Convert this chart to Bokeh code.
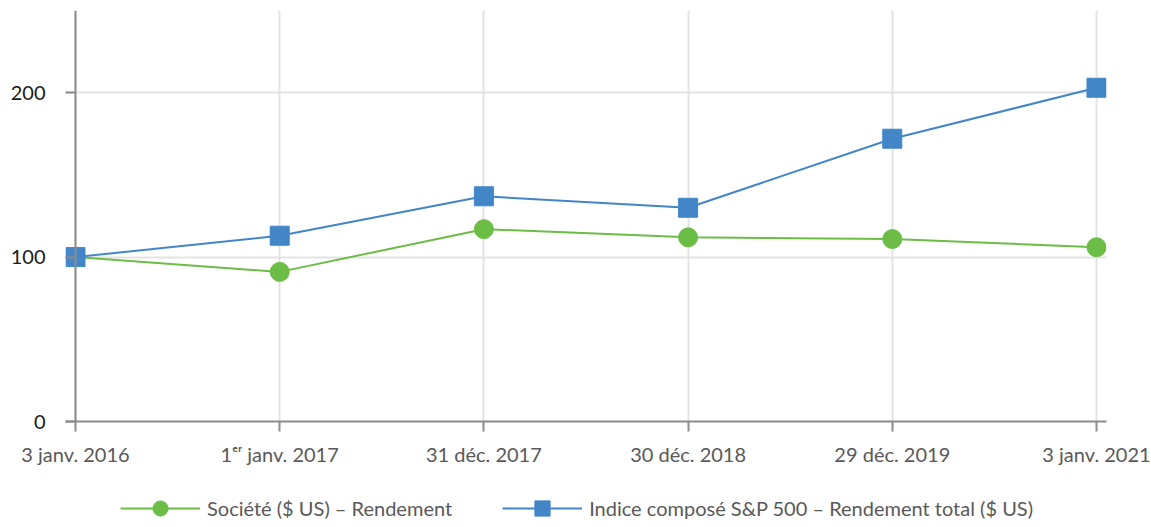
from bokeh.plotting import figure
from bokeh.layouts import column
from bokeh.models import Range1d, FixedTicker, Span, Legend, LegendItem
from bokeh.embed import file_html
from bokeh.resources import INLINE

dates = ["3 janv. 2016", "1ᵉʳ janv. 2017", "31 déc. 2017", "30 déc. 2018", "29 déc. 2019", "3 janv. 2021"]
societe = [100, 91, 117, 112, 111, 106]
sp500 = [100, 113, 137, 130, 172, 203]
y_ticks = [0, 100, 200]
series_names = ["Société ($ US) – Rendement", "Indice composé S&P 500 – Rendement total ($ US)"]

GREEN = "#6bbd45"
BLUE = "#4286c8"
XTEXT = "#595959"
YTEXT = "#1a1a1a"
AXIS = "#8c8c8c"
FONT = "Lato"

xs = list(range(len(dates)))

p = figure(width=1151, height=470, output_backend="svg", toolbar_location=None,
           x_range=Range1d(-0.049, len(dates) - 1 + 0.049), y_range=Range1d(0, 250),
           min_border_left=65, min_border_right=45, min_border_top=10, min_border_bottom=49)
p.outline_line_color = None

# axes
p.xaxis.ticker = FixedTicker(ticks=xs)
p.xaxis.major_label_overrides = {i: d for i, d in enumerate(dates)}
p.yaxis.ticker = FixedTicker(ticks=y_ticks)
p.xaxis.minor_tick_line_color = None
p.yaxis.minor_tick_line_color = None
for ax in (p.xaxis, p.yaxis):
    ax.major_label_text_font = FONT
    ax.major_label_text_font_size = "20px"
    ax.major_tick_line_color = AXIS
    ax.major_tick_line_width = 2
p.xaxis.major_label_text_color = XTEXT
p.yaxis.major_label_text_color = YTEXT
p.xaxis.axis_line_color = AXIS
p.xaxis.axis_line_width = 2
p.xaxis.major_tick_out = 10
p.xaxis.major_tick_in = 0
p.xaxis.major_label_standoff = 10
p.yaxis.axis_line_color = None
p.yaxis.major_tick_out = 0
p.yaxis.major_tick_in = 10
p.yaxis.major_label_standoff = 20

p.xgrid.ticker = FixedTicker(ticks=xs)
p.ygrid.ticker = FixedTicker(ticks=y_ticks)
p.grid.grid_line_color = "#e3e3e3"
p.grid.grid_line_width = 2

# vertical axis line at the first date
p.add_layout(Span(location=0, dimension="height", line_color=AXIS, line_width=2))

p.line(xs, societe, line_color=GREEN, line_width=2)
p.scatter(xs, societe, marker="circle", size=19, fill_color=GREEN, line_color=GREEN)
p.line(xs, sp500, line_color=BLUE, line_width=2)
p.scatter(xs, sp500, marker="square", size=19, fill_color=BLUE, line_color=BLUE)

# legend strip below the chart (its renderers sit far outside its visible range)
lg = figure(width=1151, height=57, output_backend="svg", toolbar_location=None,
            x_axis_type=None, y_axis_type=None, x_range=Range1d(0, 1), y_range=Range1d(-1, 0),
            min_border=0)
lg.outline_line_color = None
lg.grid.visible = False
gl1 = lg.line(xs, societe, line_color=GREEN, line_width=2)
gc1 = lg.scatter(xs, societe, marker="circle", fill_color=GREEN, line_color=GREEN)
gl2 = lg.line(xs, sp500, line_color=BLUE, line_width=2)
gc2 = lg.scatter(xs, sp500, marker="square", fill_color=BLUE, line_color=BLUE)

legend = Legend(items=[LegendItem(label=series_names[0], renderers=[gl1, gc1]),
                       LegendItem(label=series_names[1], renderers=[gl2, gc2])],
                orientation="horizontal", location=(55, 0),
                glyph_width=80, glyph_height=38, label_standoff=7, spacing=50,
                label_text_font=FONT, label_text_font_size="20px", label_text_color=XTEXT,
                border_line_color=None, background_fill_alpha=0, margin=0, padding=0)
lg.add_layout(legend, "center")

layout = column(p, lg, spacing=0)
open("out.html", "w").write(file_html(layout, INLINE))
